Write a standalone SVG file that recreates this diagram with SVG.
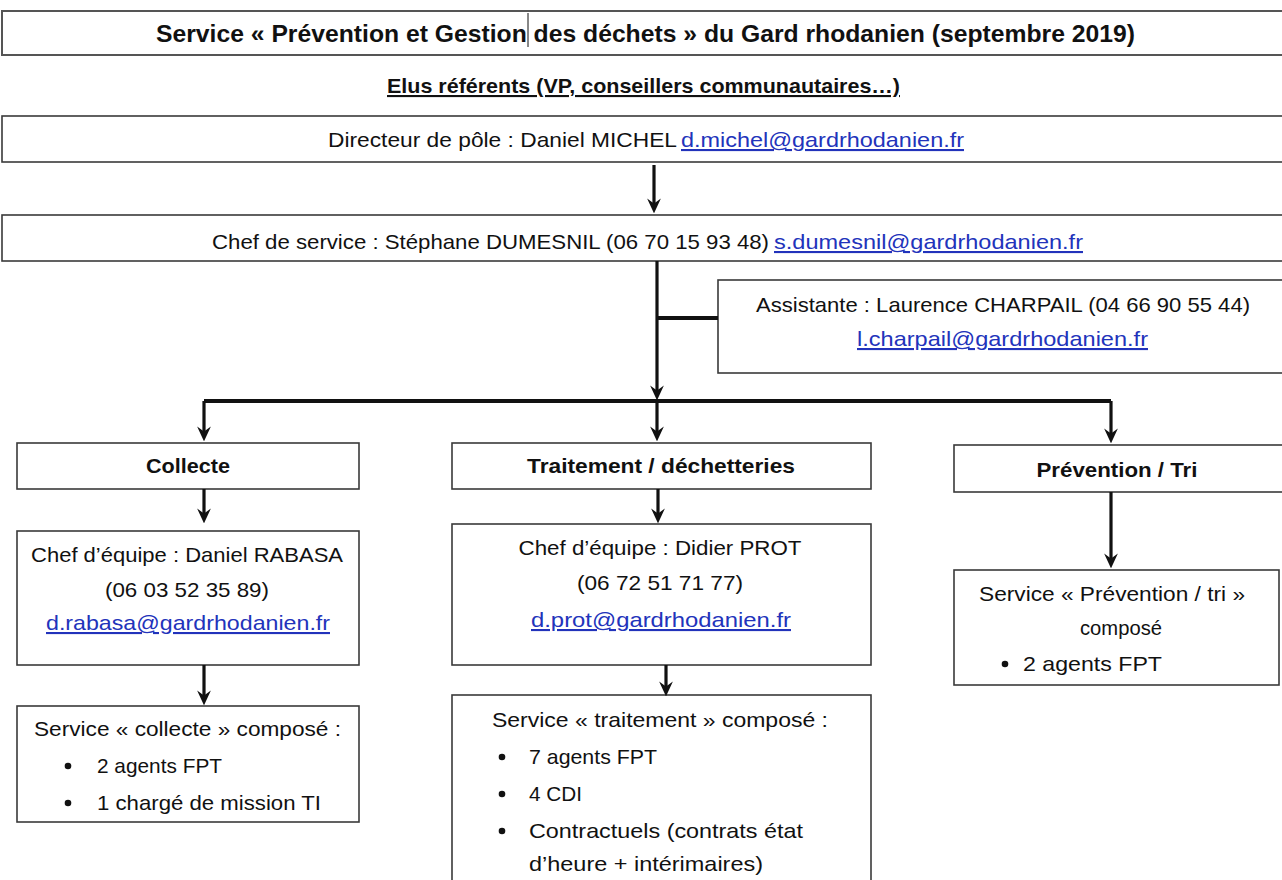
<svg xmlns="http://www.w3.org/2000/svg" width="1282" height="880" viewBox="0 0 1282 880">
<defs>
<style>
text{font-family:"Liberation Sans",Arial,sans-serif;font-size:21px;fill:#111}
.b{font-weight:bold}
.l{fill:#2233bb;text-decoration:underline}
.u{text-decoration:underline}
.box{fill:#fff;stroke:#3a3a3a;stroke-width:1.6}
.c{fill:none;stroke:#111;stroke-width:3.2}
.ct{fill:none;stroke:#111;stroke-width:4}
</style>
<marker id="ah" viewBox="0 0 12 12" refX="8.5" refY="6" markerWidth="15" markerHeight="15" markerUnits="userSpaceOnUse" orient="auto">
<path d="M0,0.5 L12,6 L0,11.5 L4,6 z" fill="#111"/>
</marker>
</defs>
<rect width="1282" height="880" fill="#fff"/>

<g id="title">
<rect class="box" x="2" y="11" width="1300" height="44" style="stroke:#555;stroke-width:2"/>
<text class="b" x="156" y="42" textLength="979" lengthAdjust="spacingAndGlyphs" style="font-size:24px">Service « Prévention et Gestion des déchets » du Gard rhodanien (septembre 2019)</text>
<line x1="528" y1="13" x2="528" y2="47" stroke="#111" stroke-width="1"/>
</g>

<g id="elus">
<text class="b u" x="387" y="93" textLength="513" lengthAdjust="spacingAndGlyphs">Elus référents (VP, conseillers communautaires…)</text>
</g>

<g id="directeur">
<rect class="box" x="2" y="116" width="1300" height="46"/>
<text x="328" y="147" textLength="349" lengthAdjust="spacingAndGlyphs">Directeur de pôle : Daniel MICHEL</text>
<text class="l" x="681" y="147" textLength="283" lengthAdjust="spacingAndGlyphs">d.michel@gardrhodanien.fr</text>
</g>

<g id="chef-service">
<rect class="box" x="2" y="215" width="1300" height="46"/>
<text x="212" y="249" textLength="557" lengthAdjust="spacingAndGlyphs">Chef de service : Stéphane DUMESNIL (06 70 15 93 48)</text>
<text class="l" x="774" y="249" textLength="309" lengthAdjust="spacingAndGlyphs">s.dumesnil@gardrhodanien.fr</text>
</g>

<g id="assistante">
<rect class="box" x="718" y="280" width="600" height="93"/>
<text x="756" y="312" textLength="494" lengthAdjust="spacingAndGlyphs">Assistante : Laurence CHARPAIL (04 66 90 55 44)</text>
<text class="l" x="857" y="346" textLength="291" lengthAdjust="spacingAndGlyphs">l.charpail@gardrhodanien.fr</text>
</g>

<g id="collecte">
<rect class="box" x="17" y="443" width="342" height="46"/>
<text class="b" x="188" y="473" text-anchor="middle" textLength="84" lengthAdjust="spacingAndGlyphs">Collecte</text>
</g>

<g id="traitement">
<rect class="box" x="452" y="443" width="419" height="46"/>
<text class="b" x="661" y="473" text-anchor="middle" textLength="268" lengthAdjust="spacingAndGlyphs">Traitement / déchetteries</text>
</g>

<g id="prevention">
<rect class="box" x="954" y="445" width="340" height="47"/>
<text class="b" x="1117" y="477" text-anchor="middle" textLength="161" lengthAdjust="spacingAndGlyphs">Prévention / Tri</text>
</g>

<g id="chef-collecte">
<rect class="box" x="17" y="531" width="342" height="134"/>
<text x="187" y="562" text-anchor="middle" textLength="312" lengthAdjust="spacingAndGlyphs">Chef d’équipe : Daniel RABASA</text>
<text x="187" y="597" text-anchor="middle" textLength="164" lengthAdjust="spacingAndGlyphs">(06 03 52 35 89)</text>
<text class="l" x="188" y="630" text-anchor="middle" textLength="284" lengthAdjust="spacingAndGlyphs">d.rabasa@gardrhodanien.fr</text>
</g>

<g id="chef-traitement">
<rect class="box" x="452" y="524" width="419" height="141"/>
<text x="660" y="555" text-anchor="middle" textLength="283" lengthAdjust="spacingAndGlyphs">Chef d’équipe : Didier PROT</text>
<text x="660" y="590" text-anchor="middle" textLength="166" lengthAdjust="spacingAndGlyphs">(06 72 51 71 77)</text>
<text class="l" x="661" y="627" text-anchor="middle" textLength="260" lengthAdjust="spacingAndGlyphs">d.prot@gardrhodanien.fr</text>
</g>

<g id="service-collecte">
<rect class="box" x="17" y="706" width="342" height="116"/>
<text x="34" y="736" textLength="307" lengthAdjust="spacingAndGlyphs">Service « collecte » composé :</text>
<circle cx="68" cy="766" r="3.3" fill="#111"/>
<text x="97" y="773" textLength="125" lengthAdjust="spacingAndGlyphs">2 agents FPT</text>
<circle cx="68" cy="803" r="3.3" fill="#111"/>
<text x="97" y="810" textLength="224" lengthAdjust="spacingAndGlyphs">1 chargé de mission TI</text>
</g>

<g id="service-traitement">
<rect class="box" x="452" y="695" width="419" height="200"/>
<text x="492" y="727" textLength="336" lengthAdjust="spacingAndGlyphs">Service « traitement » composé :</text>
<circle cx="502" cy="757" r="3.3" fill="#111"/>
<text x="529" y="764" textLength="128" lengthAdjust="spacingAndGlyphs">7 agents FPT</text>
<circle cx="502" cy="794" r="3.3" fill="#111"/>
<text x="529" y="801" textLength="53" lengthAdjust="spacingAndGlyphs">4 CDI</text>
<circle cx="502" cy="831" r="3.3" fill="#111"/>
<text x="529" y="838" textLength="274" lengthAdjust="spacingAndGlyphs">Contractuels (contrats état</text>
<text x="529" y="871" textLength="234" lengthAdjust="spacingAndGlyphs">d’heure + intérimaires)</text>
</g>

<g id="service-prevention">
<rect class="box" x="954" y="570" width="325" height="115"/>
<text x="1112" y="601" text-anchor="middle" textLength="266" lengthAdjust="spacingAndGlyphs">Service « Prévention / tri »</text>
<text x="1121" y="635" text-anchor="middle" textLength="82" lengthAdjust="spacingAndGlyphs">composé</text>
<circle cx="1005" cy="664" r="3.3" fill="#111"/>
<text x="1023" y="671" textLength="139" lengthAdjust="spacingAndGlyphs">2 agents FPT</text>
</g>

<g id="connectors">
<line class="c" x1="654" y1="165" x2="654" y2="209" marker-end="url(#ah)"/>
<line class="c" x1="657" y1="261" x2="657" y2="396" marker-end="url(#ah)"/>
<line class="ct" x1="657" y1="318" x2="718" y2="318"/>
<polyline class="ct" points="204,401 1111,401"/>
<line class="c" x1="204" y1="401" x2="204" y2="437" marker-end="url(#ah)"/>
<line class="c" x1="657" y1="401" x2="657" y2="437" marker-end="url(#ah)"/>
<line class="c" x1="1111" y1="401" x2="1111" y2="439" marker-end="url(#ah)"/>
<line class="c" x1="204" y1="489" x2="204" y2="519" marker-end="url(#ah)"/>
<line class="c" x1="658" y1="489" x2="658" y2="519" marker-end="url(#ah)"/>
<line class="c" x1="1111" y1="492" x2="1111" y2="564" marker-end="url(#ah)"/>
<line class="c" x1="204" y1="665" x2="204" y2="701" marker-end="url(#ah)"/>
<line class="c" x1="666" y1="665" x2="666" y2="692" marker-end="url(#ah)"/>
</g>
</svg>
